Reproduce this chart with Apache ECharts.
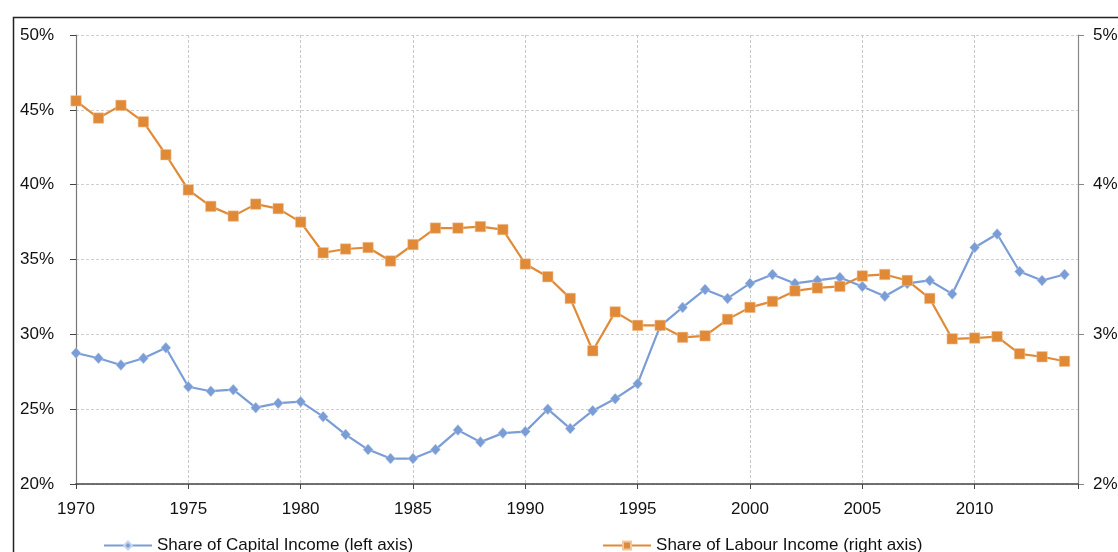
<!DOCTYPE html>
<html>
<head>
<meta charset="utf-8">
<script src="https://cdn.jsdelivr.net/npm/echarts@6/dist/echarts.min.js"></script>
<style>
  html, body { margin: 0; padding: 0; background: #fff; }
  #chart { width: 1118px; height: 552px; }
</style>
</head>
<body>
<div id="chart"></div>
<script>
// years on the x axis
var years = [1970, 1971, 1972, 1973, 1974, 1975, 1976, 1977, 1978, 1979,
             1980, 1981, 1982, 1983, 1984, 1985, 1986, 1987, 1988, 1989,
             1990, 1991, 1992, 1993, 1994, 1995, 1996, 1997, 1998, 1999,
             2000, 2001, 2002, 2003, 2004, 2005, 2006, 2007, 2008, 2009,
             2010, 2011, 2012, 2013, 2014];

// share of capital income, % (left axis)
var capitalShare = [28.75, 28.4, 27.95, 28.4, 29.1, 26.5, 26.2, 26.3, 25.1, 25.4,
                    25.5, 24.5, 23.3, 22.3, 21.7, 21.7, 22.3, 23.6, 22.8, 23.4,
                    23.5, 25.0, 23.7, 24.9, 25.7, 26.7, 30.55, 31.8, 33.0, 32.4,
                    33.4, 34.0, 33.4, 33.6, 33.8, 33.2, 32.55, 33.4, 33.6, 32.7,
                    35.8, 36.7, 34.2, 33.6, 34.0];

// share of labour income, % (right axis)
var labourShare = [4.56, 4.445, 4.53, 4.42, 4.2, 3.965, 3.855, 3.79, 3.87, 3.84,
                   3.75, 3.545, 3.57, 3.58, 3.49, 3.6, 3.71, 3.71, 3.72, 3.7,
                   3.47, 3.385, 3.24, 2.89, 3.15, 3.06, 3.06, 2.98, 2.99, 3.1,
                   3.18, 3.22, 3.29, 3.31, 3.32, 3.39, 3.4, 3.36, 3.24, 2.97,
                   2.975, 2.985, 2.87, 2.85, 2.82];

var seriesNames = ['Share of Capital Income (left axis)', 'Share of Labour Income (right axis)'];

var font = '"Liberation Sans Narrow", "Liberation Sans", Arial, sans-serif';
var blue = '#7b9dd6';
var orange = '#e08a38';

function pairs(xs, ys) {
    var out = [];
    for (var i = 0; i < xs.length; i++) {
        out.push([xs[i], ys[i]]);
    }
    return out;
}

var chart = echarts.init(document.getElementById('chart'));

var option = {
    animation: false,
    textStyle: { fontFamily: font },

    // outer chart frame
    graphic: [{
        type: 'rect',
        left: 11,
        top: 15,
        shape: { width: 1200, height: 600 },
        style: { fill: 'none', stroke: '#222', lineWidth: 1.5 },
        silent: true
    }],

    grid: {
        left: 76,
        right: 40,
        top: 35,
        bottom: 68,
        outerBoundsMode: 'none'
    },

    legend: {
        left: 98,
        top: 532,
        itemWidth: 48,
        itemHeight: 10,
        itemGap: 189,
        textStyle: { fontFamily: font, fontSize: 17, color: '#111' },
        data: seriesNames
    },

    xAxis: {
        type: 'value',
        min: 1970,
        max: 2014.6,
        interval: 5,
        axisLine: { show: true, lineStyle: { color: '#444', width: 1.5 } },
        axisTick: { show: true, length: 5, lineStyle: { color: '#444' } },
        axisLabel: {
            margin: 17,
            fontSize: 17,
            color: '#111',
            fontFamily: font,
            formatter: function (v) {
                return (v % 5 === 0) ? String(v) : '';
            }
        },
        splitLine: { show: true, lineStyle: { color: '#c8c8c8', type: [3, 2] } }
    },

    yAxis: [{
        type: 'value',
        min: 20,
        max: 50,
        interval: 5,
        position: 'left',
        axisLine: { show: true, lineStyle: { color: '#777', width: 1.2 } },
        axisTick: { show: true, inside: false, length: 6, lineStyle: { color: '#444' } },
        axisLabel: {
            margin: 22,
            fontSize: 17,
            color: '#111',
            fontFamily: font,
            formatter: '{value}%'
        },
        splitLine: { show: true, lineStyle: { color: '#d0d0d0', type: [3, 2] } }
    }, {
        type: 'value',
        min: 2,
        max: 5,
        interval: 1,
        position: 'right',
        axisLine: { show: true, lineStyle: { color: '#888', width: 1.2 } },
        axisTick: { show: true, inside: false, length: 6, lineStyle: { color: '#888' } },
        axisLabel: {
            margin: 15,
            fontSize: 17,
            color: '#111',
            fontFamily: font,
            formatter: '{value}%'
        },
        splitLine: { show: false }
    }],

    series: [{
        name: seriesNames[0],
        type: 'line',
        yAxisIndex: 0,
        data: pairs(years, capitalShare),
        symbol: 'diamond',
        symbolSize: [10, 11],
        showAllSymbol: true,
        lineStyle: { color: blue, width: 2.2 },
        itemStyle: { color: blue, borderColor: '#c5d4ef', borderWidth: 0.5 }
    }, {
        name: seriesNames[1],
        type: 'line',
        yAxisIndex: 1,
        data: pairs(years, labourShare),
        symbol: 'rect',
        symbolSize: 10.5,
        showAllSymbol: true,
        lineStyle: { color: orange, width: 2.2 },
        itemStyle: { color: orange, borderColor: '#f1c79e', borderWidth: 0.5 }
    }]
};

chart.setOption(option);
</script>
</body>
</html>
